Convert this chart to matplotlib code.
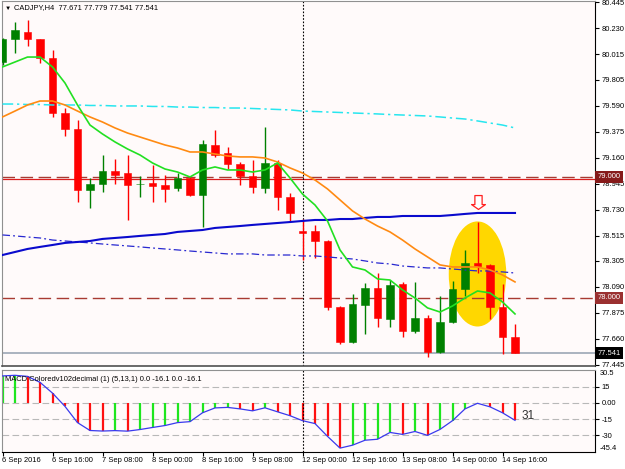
import matplotlib
matplotlib.use('Agg')
import matplotlib.pyplot as plt
from matplotlib.patches import Ellipse
from matplotlib.path import Path
import numpy as np

# ---- данные: CADJPY H4, 6 Sep 2016 00:00 .. 14 Sep 2016 20:00 ----
opens = [79.952, 80.142, 80.200, 80.142, 79.985, 79.530, 79.397, 78.892, 78.942, 79.050,
         79.033, 78.938, 78.950, 78.934, 78.909, 78.992, 78.851, 79.265, 79.199, 79.108,
         79.008, 78.909, 79.116, 78.834, 78.553, 78.553, 78.470, 77.924, 77.634, 77.940,
         78.081, 77.825, 78.114, 77.725, 77.833, 77.551, 77.800, 78.073, 78.288, 78.272,
         77.924, 77.671]
highs = [80.151, 80.283, 80.300, 80.145, 80.051, 79.571, 79.472, 78.990, 79.182, 79.149,
         79.182, 79.008, 79.099, 79.017, 79.033, 79.008, 79.306, 79.389, 79.248, 79.124,
         79.141, 79.414, 79.141, 78.868, 78.652, 78.603, 78.478, 77.932, 78.031, 78.123,
         78.205, 78.147, 78.131, 78.131, 77.858, 78.015, 78.139, 78.396, 78.627, 78.280,
         78.114, 77.779]
lows = [79.927, 80.026, 80.084, 79.944, 79.497, 79.339, 78.793, 78.743, 78.876, 78.942,
        78.644, 78.834, 78.793, 78.793, 78.884, 78.843, 78.586, 79.166, 79.066, 78.934,
        78.868, 78.868, 78.727, 78.636, 78.313, 78.329, 77.899, 77.618, 77.626, 77.700,
        77.758, 77.758, 77.676, 77.709, 77.510, 77.543, 77.795, 78.015, 78.205, 77.825,
        77.535, 77.541]
closes = [80.142, 80.217, 80.142, 79.985, 79.530, 79.397, 78.892, 78.942, 79.050, 79.017,
          78.934, 78.946, 78.925, 78.901, 78.992, 78.851, 79.273, 79.182, 79.108, 79.008,
          78.917, 79.116, 78.834, 78.702, 78.536, 78.470, 77.924, 77.634, 77.949, 78.081,
          77.833, 78.106, 77.725, 77.833, 77.551, 77.800, 78.073, 78.288, 78.263, 77.924,
          77.671, 77.541]

# скользящие средние
ma_fast = [79.911, 79.952, 79.993, 79.993, 79.911, 79.778, 79.596, 79.430, 79.356, 79.290,
           79.232, 79.182, 79.116, 79.066, 79.041, 79.000, 79.058, 79.083, 79.058, 79.058,
           79.041, 79.058, 79.116, 78.992, 78.859, 78.768, 78.636, 78.396, 78.255, 78.230,
           78.156, 78.147, 78.065, 77.998, 77.916, 77.882, 77.932, 77.998, 78.056, 78.040,
           77.965, 77.866]
ma_mid = [79.497, 79.546, 79.596, 79.629, 79.629, 79.596, 79.546, 79.497, 79.455, 79.406,
          79.364, 79.331, 79.298, 79.265, 79.240, 79.207, 79.207, 79.190, 79.174, 79.166,
          79.166, 79.157, 79.124, 79.075, 79.033, 78.975, 78.901, 78.810, 78.719, 78.652,
          78.594, 78.545, 78.478, 78.404, 78.338, 78.272, 78.255, 78.255, 78.255, 78.230,
          78.189, 78.131]
ma_long = [79.604, 79.604, 79.600, 79.600, 79.596, 79.596, 79.596, 79.592, 79.592, 79.588,
           79.588, 79.588, 79.584, 79.584, 79.579, 79.579, 79.575, 79.575, 79.571, 79.571,
           79.567, 79.563, 79.559, 79.555, 79.546, 79.542, 79.538, 79.534, 79.530, 79.526,
           79.522, 79.517, 79.513, 79.509, 79.505, 79.497, 79.488, 79.480, 79.464, 79.447,
           79.430, 79.406]
ma_slow = [78.354, 78.379, 78.404, 78.421, 78.437, 78.454, 78.462, 78.470, 78.487, 78.495,
           78.503, 78.512, 78.520, 78.528, 78.545, 78.553, 78.561, 78.578, 78.586, 78.594,
           78.603, 78.611, 78.619, 78.627, 78.636, 78.644, 78.644, 78.652, 78.652, 78.661,
           78.669, 78.669, 78.677, 78.677, 78.677, 78.677, 78.685, 78.694, 78.702, 78.702,
           78.702, 78.702]
ma_slow_dot = [78.520, 78.512, 78.503, 78.495, 78.478, 78.470, 78.462, 78.454, 78.445, 78.437,
               78.429, 78.421, 78.412, 78.404, 78.396, 78.387, 78.379, 78.371, 78.363, 78.363,
               78.363, 78.354, 78.354, 78.354, 78.346, 78.346, 78.338, 78.329, 78.321, 78.305,
               78.288, 78.280, 78.263, 78.255, 78.247, 78.247, 78.238, 78.230, 78.222, 78.222,
               78.214, 78.205]

macd = [25.0, 25.6, 24.6, 19.1, 9.1, -3.2, -18.2, -25.5, -26.0, -25.6,
        -26.1, -24.6, -22.7, -20.9, -18.2, -17.3, -9.1, -4.6, -4.1, -5.5,
        -7.3, -4.5, -8.2, -11.8, -16.4, -19.1, -30.9, -41.8, -39.1, -34.5,
        -33.6, -27.3, -29.1, -26.4, -30.0, -24.5, -16.4, -5.5, -0.3, -3.6,
        -9.1, -16.1]

time_labels = ['6 Sep 2016', '6 Sep 16:00', '7 Sep 08:00', '8 Sep 00:00', '8 Sep 16:00',
               '9 Sep 08:00', '12 Sep 00:00', '12 Sep 16:00', '13 Sep 08:00',
               '14 Sep 00:00', '14 Sep 16:00']
time_label_bars = [0, 4, 8, 12, 16, 20, 24, 28, 32, 36, 40]
week_sep_bar = 24

price_ticks = [80.445, 80.230, 80.015, 79.805, 79.590, 79.375, 79.160, 78.945,
               78.730, 78.515, 78.305, 78.090, 77.875, 77.660, 77.445]
macd_ticks = [15, 0, -15, -30]
macd_tick_labels = ['15', '0.00', '-15', '-30']
macd_max, macd_min = 30.5, -45.4

level_hi = 79.000
level_hi_line = 78.985
level_lo = 78.000
bid = 77.541
signal_bar, signal_price = 38, 78.79
ellipse_center = (38, 78.197)
ellipse_size = (4.6, 0.87)
header = 'CADJPY,H4  77.671 77.779 77.541 77.541'
macd_header = 'MACD Coloredv102decimal (1) (5,13,1) 0.0 -16.1 0.0 -16.1'

# ---- рисование ----
plt.rcParams['font.family'] = ['Liberation Sans', 'DejaVu Sans']
FS = 5.4
W, H = 625, 469
BG = '#fffafa'

fig = plt.figure(figsize=(W / 100, H / 100), dpi=100, facecolor='white')
ax = fig.add_axes([2 / W, 1 - 366 / H, 593 / W, 365 / H], facecolor=BG)
axm = fig.add_axes([2 / W, 1 - 452 / H, 593 / W, 82 / H], facecolor=BG)

x = np.arange(len(opens))
o, c = np.array(opens), np.array(closes)
up = c > o
cols = np.where(up, '#008000', '#ff0000')

# выделение эллипсом
ax.add_patch(Ellipse(ellipse_center, *ellipse_size, color='#ffd700', lw=0, zorder=1))

# уровни
ax.axhline(level_hi, color='#a83a32', lw=1.0, ls=(0, (9, 4)), zorder=2)
ax.axhline(level_hi_line, color='#dd1c1c', lw=0.9, zorder=2)
ax.axhline(level_lo, color='#a83a32', lw=1.0, ls=(0, (9, 4)), zorder=2)
ax.axhline(bid, color='#aab3bf', lw=1.4, zorder=2)

# свечи
ax.vlines(x, lows, highs, colors=cols, lw=1.0, zorder=3)
body_h = np.maximum(np.abs(c - o), 0.008)
ax.bar(x, body_h, bottom=np.minimum(o, c), width=0.58, color=cols,
       edgecolor=cols, lw=0.4, zorder=4)

# средние
ax.plot(x, ma_long, color='#27e6ef', lw=1.1, ls=(0, (7, 2.5, 1.5, 2.5)), zorder=5)
ax.plot(x, ma_slow_dot, color='#2828d0', lw=0.9, ls=(0, (6, 2.5, 1.5, 2.5)), zorder=5)
ax.plot(x, ma_slow, color='#0a0acd', lw=1.5, zorder=5)
ax.plot(x, ma_mid, color='#ff8a12', lw=1.2, zorder=5)
ax.plot(x, ma_fast, color='#22e022', lw=1.2, zorder=5)

# стрелка сигнала
arrow = Path([(-0.26, 0.5), (0.26, 0.5), (0.26, -0.15), (0.5, -0.15), (0, -0.5),
              (-0.5, -0.15), (-0.26, -0.15), (-0.26, 0.5)], closed=True)
ax.plot([signal_bar], [signal_price], marker=arrow, ms=10, mfc='white',
        mec='#ff2020', mew=0.9, zorder=6)

ax.axvline(week_sep_bar, color='black', lw=0.8, ls=(0, (1.5, 1.5)), zorder=2)

ax.set_xlim(-0.04, 47.4)
ax.set_ylim(77.435, 80.457)
ax.tick_params(axis='x', bottom=False, labelbottom=False)
ax.yaxis.tick_right()
ax.set_yticks(price_ticks)
ax.set_yticklabels([f'{p:.3f}' for p in price_ticks])
ax.tick_params(axis='y', length=3, width=0.8, pad=1.5, labelsize=FS)

for s in ['left', 'top']:
    ax.spines[s].set_color('#909090')
ax.spines['right'].set_color('black')
ax.spines['bottom'].set_color('#505050')
ax.spines['bottom'].set_linewidth(1.2)

# подписи уровней справа
for val, fc in [(level_hi, '#861a1a'), (level_lo, '#9a3030'), (bid, 'black')]:
    ax.text(1.004, val, f'{val:.3f}', transform=ax.get_yaxis_transform(),
            ha='left', va='center', fontsize=FS, color='white', zorder=10,
            bbox=dict(boxstyle='square,pad=0.3', fc=fc, ec='none'))

fig.text(5 / W, 1 - 8 / H, '▼', fontsize=4.5, va='center', ha='left')
fig.text(14 / W, 1 - 8 / H, header, fontsize=FS, va='center', ha='left')

# ---- MACD ----
m = np.array(macd)
rising = np.concatenate([[True], m[1:] > m[:-1]])
hcols = np.where(rising, '#1ee61e', '#ff1010')
for lv in macd_ticks:
    axm.axhline(lv, color='#b8b8b8', lw=0.8, ls=(0, (6, 3)), zorder=1)
axm.vlines(x, 0, m, colors=hcols, lw=1.6, zorder=2)
axm.plot(x, m, color='#3a3aee', lw=0.9, zorder=3)
axm.axvline(week_sep_bar, color='black', lw=0.8, ls=(0, (1.5, 1.5)), zorder=2)
axm.text(41.5, -12, '31', fontsize=8.5, color='#303030', va='center', ha='left')

axm.set_xlim(-0.04, 47.4)
axm.set_ylim(macd_min, macd_max)
axm.yaxis.tick_right()
axm.set_yticks(macd_ticks)
axm.set_yticklabels(macd_tick_labels)
axm.tick_params(axis='y', length=3, width=0.8, pad=1.5, labelsize=FS)
axm.set_xticks(time_label_bars)
axm.set_xticklabels(time_labels, ha='left')
axm.tick_params(axis='x', length=3, width=0.8, pad=0.8, labelsize=FS)
axm.text(1.008, macd_max, f'{macd_max}', transform=axm.get_yaxis_transform(),
         ha='left', va='top', fontsize=FS)
axm.text(1.008, macd_min, f'{macd_min}', transform=axm.get_yaxis_transform(),
         ha='left', va='bottom', fontsize=FS)
axm.text(0.005, 0.93, macd_header, transform=axm.transAxes, fontsize=FS,
         va='top', ha='left')
for s in ['left', 'top']:
    axm.spines[s].set_color('#909090')
axm.spines['right'].set_color('black')
axm.spines['bottom'].set_color('black')

plt.savefig('out.png', dpi=100, facecolor='white')
plt.close()
